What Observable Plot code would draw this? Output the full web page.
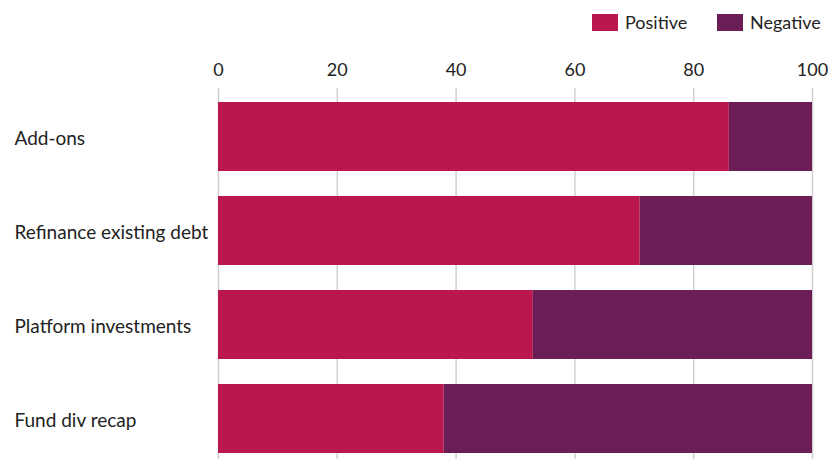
<!DOCTYPE html>
<html>
<head>
<meta charset="utf-8">
<script src="https://cdn.jsdelivr.net/npm/d3@7"></script>
<script src="https://cdn.jsdelivr.net/npm/@observablehq/plot@0.6"></script>
<style>
  html, body { margin: 0; padding: 0; background: #fff; overflow: hidden; }
  body { width: 828px; height: 459px; font-family: Lato, "Open Sans", sans-serif; color: #222; }
  #legend { height: 40px; position: relative; }
  .item { position: absolute; top: 11px; display: flex; align-items: center; font-size: 18px; color: #222; }
  .sw { width: 26px; height: 17px; margin-right: 7px; }
</style>
</head>
<body>
<div id="legend"></div>
<div id="chart"></div>
<script>
const categories = ["Add-ons", "Refinance existing debt", "Platform investments", "Fund div recap"];
const positive = [86, 71, 53, 38];
const negative = [14, 29, 47, 62];
const seriesNames = ["Positive", "Negative"];
const seriesColors = ["#BA174E", "#6B1D56"];
const xTicks = [0, 20, 40, 60, 80, 100];

const data = [];
categories.forEach((c, i) => {
  data.push({category: c, series: "Positive", value: positive[i]});
  data.push({category: c, series: "Negative", value: negative[i]});
});

const legend = document.getElementById("legend");
const lefts = [592, 717];
seriesNames.forEach((s, i) => {
  const d = document.createElement("div");
  d.className = "item";
  d.style.left = lefts[i] + "px";
  d.innerHTML = `<span class="sw" style="background:${seriesColors[i]}"></span><span>${s}</span>`;
  legend.appendChild(d);
});

const chart = Plot.plot({
  width: 828,
  height: 427,
  marginLeft: 218,
  marginRight: 16,
  marginTop: 48,
  marginBottom: 0,
  style: {fontFamily: "Lato, 'Open Sans', sans-serif", fontSize: "18px", color: "#222", background: "#fff", overflow: "visible"},
  x: {domain: [0, 100], ticks: xTicks},
  y: {domain: categories, paddingInner: 0.271, paddingOuter: 0.137},
  color: {domain: seriesNames, range: seriesColors},
  marks: [
    Plot.gridX(xTicks, {stroke: "#cfcfcf", strokeOpacity: 1, strokeWidth: 1.5}),
    Plot.barX(data, Plot.stackX({x: "value", y: "category", fill: "series", order: seriesNames})),
    Plot.axisX({anchor: "top", ticks: xTicks, tickSize: 0, tickPadding: 13, fontSize: 18, label: null}),
    Plot.axisY({anchor: "left", tickSize: 0, tickPadding: 0, textAnchor: "start", dx: -204, dy: 2, fontSize: 19, label: null})
  ]
});
document.getElementById("chart").appendChild(chart);
</script>
</body>
</html>
